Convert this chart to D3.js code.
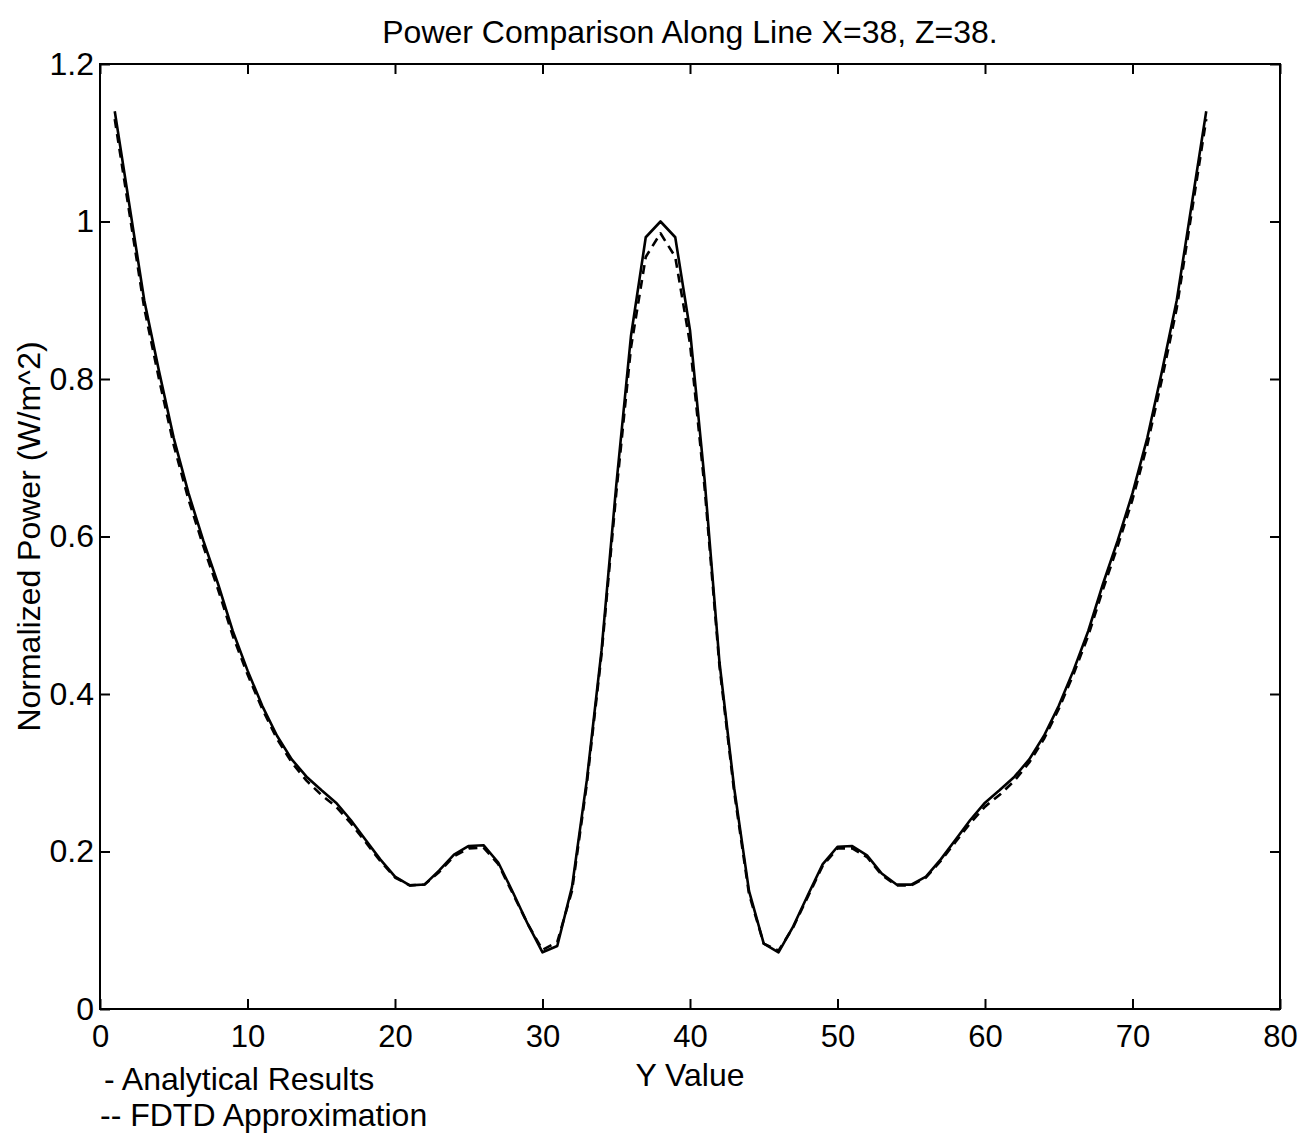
<!DOCTYPE html>
<meta charset="utf-8">
<style>
body { margin: 0; background: #fff; }
text { font-family: "Liberation Sans", Arial, Helvetica, sans-serif; fill: #000; }
.line { fill: none; stroke: #000; stroke-width: 2.6; stroke-linejoin: round; }
</style>
<body>
<script src="https://d3js.org/d3.v7.min.js"></script>
<script>

const width = 1304,
    height = 1134

// Y positions along the line
const yPos = [1, 2, 3, 4, 5, 6, 7, 8, 9, 10, 11, 12, 13, 14, 15, 16, 17, 18, 19, 20,
    21, 22, 23, 24, 25, 26, 27, 28, 29, 30, 31, 32, 33, 34, 35, 36, 37, 38, 39, 40,
    41, 42, 43, 44, 45, 46, 47, 48, 49, 50, 51, 52, 53, 54, 55, 56, 57, 58, 59, 60,
    61, 62, 63, 64, 65, 66, 67, 68, 69, 70, 71, 72, 73, 74, 75]

const analytical = [1.14, 1.02, 0.90, 0.81, 0.725, 0.655, 0.595, 0.54, 0.48, 0.43,
    0.385, 0.347, 0.317, 0.295, 0.278, 0.262, 0.24, 0.215, 0.19, 0.168,
    0.157, 0.158, 0.176, 0.196, 0.207, 0.208, 0.186, 0.148, 0.108, 0.072,
    0.08, 0.155, 0.29, 0.455, 0.665, 0.855, 0.98, 1.0, 0.98, 0.862,
    0.67, 0.44, 0.28, 0.15, 0.083, 0.072, 0.105, 0.145, 0.184, 0.206,
    0.207, 0.195, 0.172, 0.158, 0.158, 0.168, 0.19, 0.215, 0.24, 0.262,
    0.278, 0.295, 0.317, 0.347, 0.385, 0.43, 0.48, 0.54, 0.595, 0.655,
    0.725, 0.81, 0.90, 1.02, 1.14]

const fdtd = [1.13, 1.01, 0.89, 0.80, 0.716, 0.647, 0.588, 0.533, 0.474, 0.425,
    0.381, 0.343, 0.313, 0.29, 0.272, 0.257, 0.236, 0.212, 0.188, 0.167,
    0.157, 0.158, 0.174, 0.194, 0.204, 0.205, 0.184, 0.146, 0.108, 0.075,
    0.085, 0.15, 0.285, 0.45, 0.655, 0.84, 0.955, 0.985, 0.955, 0.845,
    0.66, 0.435, 0.275, 0.146, 0.083, 0.074, 0.104, 0.143, 0.182, 0.204,
    0.204, 0.193, 0.17, 0.157, 0.157, 0.167, 0.188, 0.212, 0.236, 0.257,
    0.272, 0.29, 0.313, 0.343, 0.381, 0.425, 0.474, 0.533, 0.588, 0.647,
    0.716, 0.80, 0.89, 1.01, 1.13]

const xTicks = [0, 10, 20, 30, 40, 50, 60, 70, 80]
const yTicks = [0, 0.2, 0.4, 0.6, 0.8, 1, 1.2]

var plot = { left: 100, right: 1280, top: 64, bottom: 1009 }

var x = d3.scaleLinear().domain([0, 80]).range([plot.left, plot.right])
var y = d3.scaleLinear().domain([0, 1.2]).range([plot.bottom, plot.top])

var svg = d3.select('body')
    .append('svg')
    .attr('width', width)
    .attr('height', height)

// frame
svg.append('rect')
    .attr('x', plot.left).attr('y', plot.top)
    .attr('width', plot.right - plot.left)
    .attr('height', plot.bottom - plot.top)
    .attr('fill', 'none')
    .attr('stroke', '#000')
    .attr('stroke-width', 2)

// axes with inward ticks, labels only on bottom / left
var fmtY = function (d) { return d3.format('~g')(d) }

svg.append('g')
    .attr('transform', 'translate(0,' + plot.bottom + ')')
    .call(d3.axisBottom(x).tickValues(xTicks).tickSizeInner(-10).tickSizeOuter(0).tickPadding(16))
    .call(function (g) {
        g.select('.domain').remove()
        g.selectAll('text').attr('font-size', 31).attr('font-family', null)
    })

svg.append('g')
    .attr('transform', 'translate(0,' + plot.top + ')')
    .call(d3.axisTop(x).tickValues(xTicks).tickSizeInner(-10).tickSizeOuter(0).tickFormat(''))
    .call(function (g) { g.select('.domain').remove() })

svg.append('g')
    .attr('transform', 'translate(' + plot.left + ',0)')
    .call(d3.axisLeft(y).tickValues(yTicks).tickFormat(fmtY).tickSizeInner(-10).tickSizeOuter(0).tickPadding(6))
    .call(function (g) {
        g.select('.domain').remove()
        g.selectAll('text').attr('font-size', 32).attr('font-family', null)
    })

svg.append('g')
    .attr('transform', 'translate(' + plot.right + ',0)')
    .call(d3.axisRight(y).tickValues(yTicks).tickSizeInner(-10).tickSizeOuter(0).tickFormat(''))
    .call(function (g) { g.select('.domain').remove() })

svg.selectAll('.tick line').attr('stroke', '#000').attr('stroke-width', 2)

// series
var line = d3.line()
    .x(function (d) { return x(d[0]) })
    .y(function (d) { return y(d[1]) })

svg.append('path')
    .datum(d3.zip(yPos, fdtd))
    .attr('class', 'line')
    .attr('stroke-dasharray', '9,6')
    .attr('d', line)

svg.append('path')
    .datum(d3.zip(yPos, analytical))
    .attr('class', 'line')
    .attr('d', line)

// titles
svg.append('text')
    .attr('x', (plot.left + plot.right) / 2)
    .attr('y', 43)
    .attr('text-anchor', 'middle')
    .attr('font-size', 32)
    .text('Power Comparison Along Line X=38, Z=38.')

svg.append('text')
    .attr('x', (plot.left + plot.right) / 2)
    .attr('y', 1086)
    .attr('text-anchor', 'middle')
    .attr('font-size', 32)
    .text('Y Value')

svg.append('text')
    .attr('transform', 'translate(40,' + (plot.top + plot.bottom) / 2 + ') rotate(-90)')
    .attr('text-anchor', 'middle')
    .attr('font-size', 32)
    .text('Normalized Power (W/m^2)')

// legend text
svg.append('text')
    .attr('x', 104).attr('y', 1090)
    .attr('font-size', 32)
    .text('- Analytical Results')

svg.append('text')
    .attr('x', 100).attr('y', 1126)
    .attr('font-size', 32)
    .text('-- FDTD Approximation')

</script>
</body>
